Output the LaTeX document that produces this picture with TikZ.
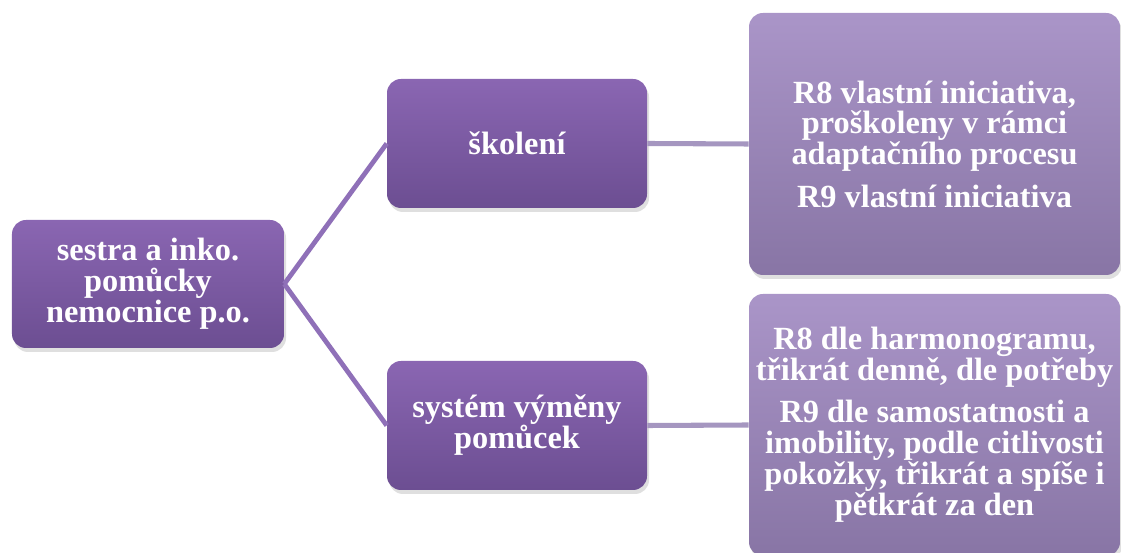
\documentclass[tikz,border=0pt]{standalone}
\usepackage{fontspec}
\setmainfont{Liberation Serif}
\usetikzlibrary{shadows}
\definecolor{boxtop}{HTML}{8A66B2}
\definecolor{boxbot}{HTML}{6C4E92}
\definecolor{leaftop}{HTML}{AA95C8}
\definecolor{leafbot}{HTML}{8875A5}
\definecolor{linkdark}{HTML}{8F70B8}
\definecolor{linklight}{HTML}{A596C0}

\begin{document}
\begin{tikzpicture}[
  box/.style={rounded corners=0.35cm, top color=boxtop, bottom color=boxbot,
    text=white, font=\fontsize{23}{22}\selectfont\bfseries, align=center, inner sep=0pt,
    drop shadow={opacity=0.25, shadow xshift=0.05cm, shadow yshift=-0.1cm}},
  midbox/.style={box, minimum width=6.5cm, minimum height=3.225cm},
  leafbox/.style={box, top color=leaftop, bottom color=leafbot,
    minimum width=9.275cm, minimum height=6.55cm},
  link/.style={line width=3.4pt, linkdark},
  leaflink/.style={line width=3.6pt, linklight}
]
\useasboundingbox (0,0) rectangle (28.025,13.825);

\node[box, minimum width=6.8cm, minimum height=3.2cm] (root) at (3.7,6.725)
  {sestra a inko.\\pomůcky\\nemocnice p.o.};

\node[midbox] (skoleni) at (12.925,10.2375) {školení};
\node[midbox] (vymena) at (12.925,3.1875) {systém výměny\\pomůcek};

\node[leafbox] (skoleniR) at (23.3625,10.225)
  {R8 vlastní iniciativa,\\proškoleny v rámci\\adaptačního procesu\\[8pt]R9 vlastní iniciativa};
\node[leafbox] (vymenaR) at (23.3625,3.2)
  {R8 dle harmonogramu,\\třikrát denně, dle potřeby\\[8pt]R9 dle samostatnosti a\\imobility, podle citlivosti\\pokožky, třikrát a spíše i\\pětkrát za den};

\draw[link] (root.east) -- (skoleni.west);
\draw[link] (root.east) -- (vymena.west);
\draw[leaflink] (skoleni.east) -- (skoleniR.west);
\draw[leaflink] (vymena.east) -- (vymenaR.west);
\end{tikzpicture}
\end{document}
